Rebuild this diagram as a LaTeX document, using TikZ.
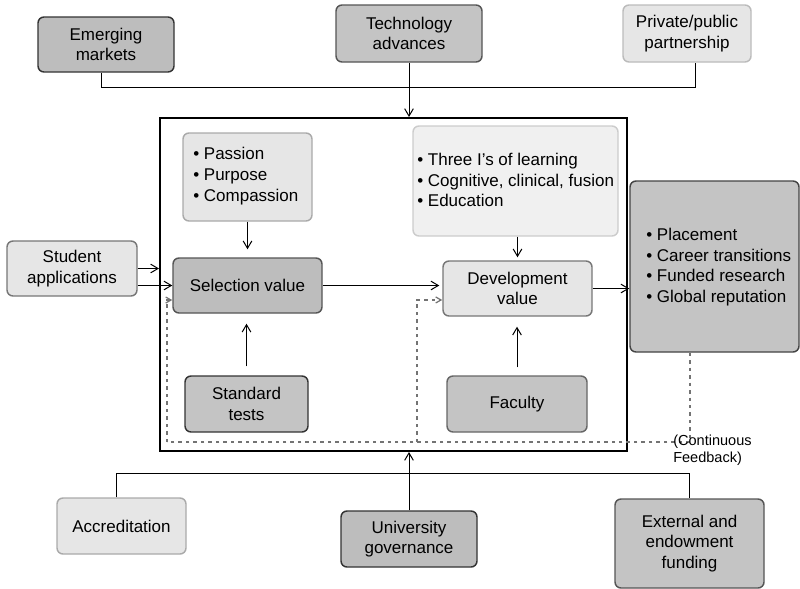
\documentclass[tikz,border=0pt]{standalone}
\usepackage{fontspec}
\setmainfont{Liberation Sans}
\usetikzlibrary{arrows.meta,calc}

\definecolor{fillD}{HTML}{BDBDBD}
\definecolor{fillM}{HTML}{C4C4C4}
\definecolor{fillL}{HTML}{E6E6E6}
\definecolor{fillXL}{HTML}{F0F0F0}
\definecolor{bThree}{HTML}{333333}
\definecolor{bFour}{HTML}{444444}
\definecolor{bFive}{HTML}{555555}
\definecolor{bSix}{HTML}{666666}
\definecolor{bSeven}{HTML}{777777}
\definecolor{bA}{HTML}{AAAAAA}
\definecolor{bB}{HTML}{BBBBBB}
\definecolor{bC}{HTML}{CCCCCC}
\definecolor{fbgray}{HTML}{737373}

\begin{document}
\begin{tikzpicture}[x=0.75pt,y=-0.75pt,
  font=\fontsize{12.75pt}{15.5pt}\selectfont,
  box/.style={draw, rounded corners=4.5pt, line width=1.1pt, inner sep=0pt, align=center},
  sz/.style 2 args={minimum width=#1*0.75pt, minimum height=#2*0.75pt},
  conn/.style={line width=0.75pt, black},
  arr/.style={conn, -{Straight Barb[length=5.5pt,width=6.5pt]}},
  fbline/.style={draw=fbgray, line width=1.6pt, dash pattern=on 2.6pt off 3pt},
  fb/.style={fbline, -{Straight Barb[length=4pt,width=4.5pt,line width=0.9pt]}},
  btext/.style={anchor=west, align=left, inner sep=0pt},
]
\useasboundingbox (0,0) rectangle (800,589);

% outer drivers
\node[box, fill=fillD, draw=bThree, sz={136}{55}] (em) at (106,44.5) {Emerging\\markets};
\node[box, fill=fillM, draw=bFive, sz={146}{57}] (tech) at (409,33.5) {Technology\\advances};
\node[box, fill=fillL, draw=bB, sz={128}{57}] (ppp) at (687,33.5) {Private/public\\partnership};
\node[box, fill=fillL, draw=bSeven, sz={130}{55}] (stud) at (72,268.5) {Student\\applications};

% the value system
\node[draw, line width=1.5pt, sz={467}{333}, inner sep=0pt] (main) at (393.5,284.5) {};

\node[box, fill=fillL, draw=bA, sz={129}{88}] (pas) at (247.5,177) {};
\node[btext] (pastxt) at (193,176) {\textbullet\ Passion\\\textbullet\ Purpose\\\textbullet\ Compassion};

\node[box, fill=fillXL, draw=bC, sz={205}{110}] (three) at (515.5,181) {};
\node[btext] (threetxt) at (417,180) {\textbullet\ Three I’s of learning\\\textbullet\ Cognitive, clinical, fusion\\\textbullet\ Education};

\node[box, fill=fillD, draw=bFive, sz={149}{55}] (sel) at (247.5,285.5) {Selection value};
\node[box, fill=fillL, draw=bSeven, sz={149}{55}] (dev) at (517.5,288.5) {Development\\value};
\node[box, fill=fillM, draw=bThree, sz={123}{56}] (std) at (246.5,404) {Standard\\tests};
\node[box, fill=fillM, draw=bSix, sz={140}{56}] (fac) at (517,404) {Faculty};

\node[box, fill=fillM, draw=bFour, sz={169}{171}] (out) at (714.5,266.5) {};
\node[btext] (outtxt) at (646,267) {\textbullet\ Placement\\\textbullet\ Career transitions\\\textbullet\ Funded research\\\textbullet\ Global reputation};

% bottom drivers
\node[box, fill=fillL, draw=bA, sz={129}{56}] (acc) at (121.5,526) {Accreditation};
\node[box, fill=fillD, draw=bThree, sz={136}{56}] (gov) at (409,539) {University\\governance};
\node[box, fill=fillM, draw=bFive, sz={149}{89}] (ext) at (689.5,543.5) {External and\\endowment\\funding};

% top bus
\coordinate (busT) at (410,87);
\draw[conn] ([xshift=-3.75pt]em.south) |- ([xshift=6pt]ppp.south |- busT) -- ([xshift=6pt]ppp.south);
\draw[arr] (tech.south) -- (tech.south |- main.north);

% bottom bus
\coordinate (busB) at (410,473);
\draw[conn] ([xshift=-3.4pt]acc.north) |- (ext.north |- busB) -- (ext.north);
\draw[arr] (gov.north) -- (gov.north |- main.south);

% student applications
\draw[arr] (stud.east) -- (stud.east -| main.west);
\draw[arr] (stud.east |- sel.west) -- (sel.west);

% inner flow
\draw[arr, shorten >=6pt] (pas.south) -- (pas.south |- sel.north);
\draw[arr, shorten <=6.75pt, shorten >=7.5pt] (std.north) -- (std.north |- sel.south);
\draw[arr, shorten >=2.25pt] (dev.north |- three.south) -- (dev.north);
\draw[arr, shorten <=6pt, shorten >=7.5pt] (fac.north) -- (fac.north |- dev.south);
\draw[arr, shorten >=2.25pt] (sel.east) -- (sel.east -| dev.west);
\draw[arr] (dev.east) -- (dev.east -| out.west);

% continuous feedback
\coordinate (fbR) at (690,442);
\coordinate (fbL) at (167,442);
\coordinate (fbM) at (417,442);
\draw[fbline] (out.south -| fbR) -- (fbR) -- (fbL);
\draw[fb] (fbL) |- ([yshift=-10.9pt]sel.west);
\draw[fb] (fbM) |- ([yshift=-8.6pt]dev.west);
\node[anchor=west, align=left, inner sep=0pt, font=\fontsize{10.9pt}{12.75pt}\selectfont] (fbtxt) at (673,450) {(Continuous\\Feedback)};
\end{tikzpicture}
\end{document}
